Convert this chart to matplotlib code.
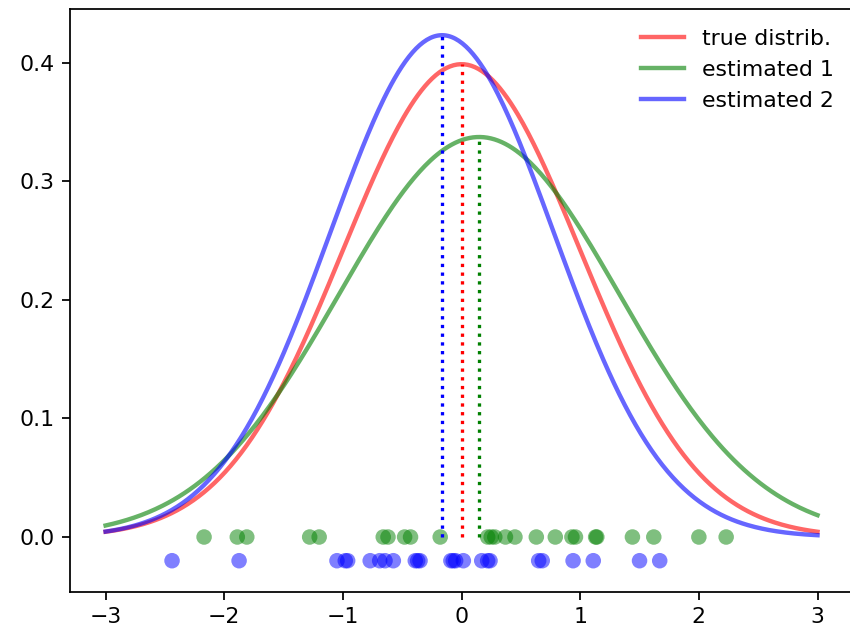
import numpy as np
import matplotlib
matplotlib.use("Agg")
import matplotlib.pyplot as plt

# samples
samples_1 = [-2.17, -1.89, -1.81, -1.28, -1.20, -0.66, -0.62, -0.48, -0.43, -0.18,
             0.22, 0.25, 0.28, 0.37, 0.45, 0.63, 0.79, 0.93, 0.96, 1.13,
             1.14, 1.44, 1.62, 2.00, 2.23]
samples_2 = [-2.44, -1.875, -1.05, -0.98, -0.96, -0.77, -0.69, -0.645, -0.575, -0.39,
             -0.37, -0.35, -0.09, -0.07, -0.05, 0.015, 0.17, 0.22, 0.24, 0.65,
             0.68, 0.94, 1.11, 1.50, 1.67]
labels = ["true distrib.", "estimated 1", "estimated 2"]
colors = ["red", "green", "blue"]


def gauss(x, mu, sigma):
    return np.exp(-0.5 * ((x - mu) / sigma) ** 2) / (sigma * np.sqrt(2 * np.pi))


dpi = 158
fig = plt.figure(figsize=(850 / dpi, 625 / dpi), dpi=dpi)
# the right spine falls just outside the picture, as in the reference
ax = fig.add_axes([70 / 850, 33 / 625, 790 / 850, 583 / 625])

x = np.linspace(-3, 3, 400)
params = [(0.0, 1.0),
          (np.mean(samples_1), np.std(samples_1)),
          (np.mean(samples_2), np.std(samples_2))]

for (mu, sigma), lab, c in zip(params, labels, colors):
    ax.plot(x, gauss(x, mu, sigma), color=c, alpha=0.6, lw=2, label=lab)

for (mu, sigma), c in zip(params, colors):
    ax.vlines(mu, 0, gauss(mu, mu, sigma), color=c, linestyles=":", lw=1.5)

ax.scatter(samples_1, np.zeros(len(samples_1)), s=50, color="green", alpha=0.5,
           edgecolors="none")
ax.scatter(samples_2, np.full(len(samples_2), -0.02), s=50, color="blue", alpha=0.5,
           edgecolors="none")

ax.set_xlim(-3.3, 3.358)
ax.set_ylim(-0.0464, 0.4455)
ax.set_xticks(range(-3, 4))
ax.set_yticks([0.0, 0.1, 0.2, 0.3, 0.4])
ax.legend(loc="upper right", bbox_to_anchor=(0.992, 1), frameon=False)

fig.savefig("out.png", dpi=dpi)
